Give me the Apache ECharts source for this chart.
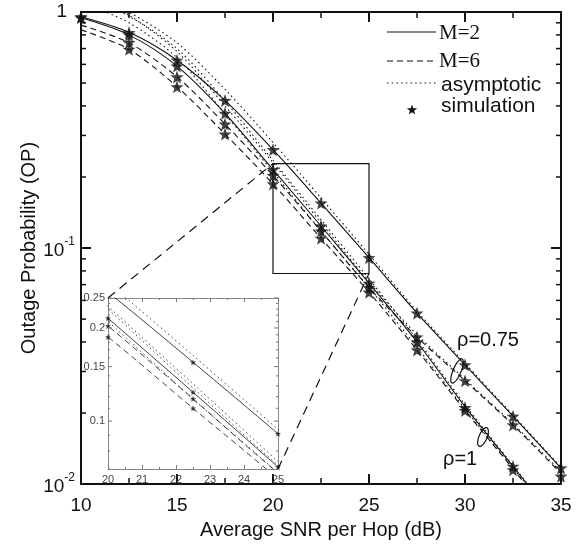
<!DOCTYPE html>
<html><head><meta charset="utf-8">
<script src="https://cdn.jsdelivr.net/npm/echarts@6/dist/echarts.min.js"></script>
<style>html,body{margin:0;padding:0;background:#fff}#c{width:581px;height:545px}</style>
</head><body><div id="c"></div>
<script>
// ---- data ----
const snr = [10, 12.5, 15, 17.5, 20, 22.5, 25, 27.5, 30, 32.5, 35];
// exact curves
const rho075M2 = [0.955, 0.82, 0.625, 0.422, 0.261, 0.155, 0.091, 0.053, 0.032, 0.0194, 0.0117];
const rho1M2   = [0.945, 0.80, 0.59, 0.372, 0.215, 0.124, 0.071, 0.040, 0.0213, 0.0119, 0.0066];
const rho075M6 = [0.88, 0.74, 0.531, 0.335, 0.203, 0.118, 0.068, 0.042, 0.0274, 0.0178, 0.0111];
const rho1M6   = [0.84, 0.695, 0.482, 0.304, 0.187, 0.110, 0.065, 0.037, 0.0205, 0.0116, 0.0064];
// asymptotic curves
const asy075M2 = [1.3, 1.0, 0.74, 0.47, 0.28, 0.163, 0.094, 0.054, 0.0325, 0.0196, 0.0118];
const asy1M2   = [1.2, 0.96, 0.70, 0.42, 0.235, 0.132, 0.074, 0.041, 0.0217, 0.012, 0.0066];
const asy075M6 = [1.25, 0.97, 0.68, 0.40, 0.23, 0.128, 0.072, 0.043, 0.0278, 0.018, 0.0113];
const asy1M6   = [1.1, 0.90, 0.64, 0.37, 0.21, 0.118, 0.068, 0.038, 0.0208, 0.0117, 0.0065];
// simulation points
const sim075M2 = [0.955, 0.818, 0.625, 0.422, 0.261, 0.155, 0.091, 0.053, 0.032, 0.0194, 0.0117];
const sim1M2   = [0.945, 0.80, 0.59, 0.372, 0.215, 0.124, 0.071, 0.040, 0.0211, 0.0119, 0.0066];
const sim075M6 = [null, 0.743, 0.531, 0.335, 0.203, 0.118, 0.068, 0.042, 0.0274, 0.0178, 0.0108];
const sim1M6   = [null, 0.695, 0.482, 0.304, 0.187, 0.110, 0.065, 0.037, 0.0205, 0.0115, 0.0064];
// ticks / labels
const mainMinorY = [0.02,0.03,0.04,0.05,0.06,0.07,0.08,0.09,0.2,0.3,0.4,0.5,0.6,0.7,0.8,0.9];
const insetYLabels = [0.1, 0.15, 0.2, 0.25];
const insetYMinor = [0.07,0.08,0.09,0.11,0.12,0.13,0.14,0.16,0.17,0.18,0.19,0.21,0.22,0.23,0.24];
const zoomBoxX = [20, 25];
const zoomBoxY = [0.078, 0.228];
const insetX = [20, 25];
const insetY = [0.07, 0.25];

const SANS = 'Liberation Sans, Arial, sans-serif';
const SERIF = 'Liberation Serif, Times New Roman, serif';
const STAR_PTS = [[0,-10],[2.35,-3.24],[9.51,-3.09],[3.8,1.24],[5.88,8.09],[0,4.3],[-5.88,8.09],[-3.8,1.24],[-9.51,-3.09],[-2.35,-3.24]];
const STAR = 'path://M' + STAR_PTS.map(p => p.join(',')).join('L') + 'Z';
const DASH = [6, 4];
const DOT = [1.5, 3.2];

const pair = arr => snr.map((x, i) => [x, arr[i]]).filter(p => p[1] != null);

const chart = echarts.init(document.getElementById('c'));

function lineSeries(arr, type, xi, yi, w) {
  return {type: 'line', data: pair(arr), xAxisIndex: xi, yAxisIndex: yi, smooth: 0.3,
    showSymbol: false, symbol: 'none', silent: true, clip: true,
    lineStyle: {color: '#111', width: w, type: type}, z: 3};
}
function starSeries(arr, xi, yi, size) {
  return {type: 'scatter', data: pair(arr), xAxisIndex: xi, yAxisIndex: yi, symbol: STAR,
    symbolSize: size, itemStyle: {color: '#111'}, silent: true, clip: true, z: 4};
}

const series = [];
[[0,0,1.1],[2,2,0.8]].forEach(([xi, yi, w]) => {
  series.push(lineSeries(rho075M2, 'solid', xi, yi, w));
  series.push(lineSeries(rho1M2, 'solid', xi, yi, w));
  series.push(lineSeries(rho075M6, DASH, xi, yi, w));
  series.push(lineSeries(rho1M6, DASH, xi, yi, w));
  series.push(lineSeries(asy075M2, DOT, xi, yi, w));
  series.push(lineSeries(asy1M2, DOT, xi, yi, w));
  series.push(lineSeries(asy075M6, DOT, xi, yi, w));
  series.push(lineSeries(asy1M6, DOT, xi, yi, w));
  const s = xi === 0 ? 13 : 6;
  series.push(starSeries(sim075M2, xi, yi, s));
  series.push(starSeries(sim1M2, xi, yi, s));
  series.push(starSeries(sim075M6, xi, yi, s));
  series.push(starSeries(sim1M6, xi, yi, s));
});

// main log minor ticks (left and right)
series.push({type: 'custom', xAxisIndex: 0, yAxisIndex: 0, data: [[10, 0.5]], silent: true, z: 5, clip: false,
  renderItem: (p, api) => {
    const ch = [];
    mainMinorY.forEach(v => {
      const l = api.coord([10, v]), r = api.coord([35, v]);
      ch.push({type: 'line', shape: {x1: l[0], y1: l[1], x2: l[0] + 5, y2: l[1]}, style: {stroke: '#111', lineWidth: 1.5}});
      ch.push({type: 'line', shape: {x1: r[0], y1: r[1], x2: r[0] - 5, y2: r[1]}, style: {stroke: '#111', lineWidth: 1.5}});
    });
    return {type: 'group', children: ch};
  }});
// inset y ticks and labels
series.push({type: 'custom', xAxisIndex: 2, yAxisIndex: 2, data: [[20, 0.1]], silent: true, z: 6, clip: false,
  renderItem: (p, api) => {
    const ch = [];
    insetYMinor.forEach(v => {
      const l = api.coord([20, v]), r = api.coord([25, v]);
      ch.push({type: 'line', shape: {x1: l[0], y1: l[1], x2: l[0] + 2, y2: l[1]}, style: {stroke: '#777', lineWidth: 1}});
      ch.push({type: 'line', shape: {x1: r[0], y1: r[1], x2: r[0] - 2, y2: r[1]}, style: {stroke: '#777', lineWidth: 1}});
    });
    insetYLabels.forEach(v => {
      const l = api.coord([20, v]), r = api.coord([25, v]);
      ch.push({type: 'line', shape: {x1: l[0], y1: l[1], x2: l[0] + 4, y2: l[1]}, style: {stroke: '#777', lineWidth: 1}});
      ch.push({type: 'line', shape: {x1: r[0], y1: r[1], x2: r[0] - 4, y2: r[1]}, style: {stroke: '#777', lineWidth: 1}});
      ch.push({type: 'text', x: l[0] - 3, y: l[1], style: {text: String(v), align: 'right', verticalAlign: 'middle',
        font: '11px ' + SANS, fill: '#444'}});
    });
    return {type: 'group', children: ch};
  }});

const supFmt = v => {
  const e = Math.round(Math.log10(v));
  return e === 0 ? '{one|1}' : '{b|10}{s|' + e + '}';
};

const option = {
  animation: false,
  backgroundColor: '#fff',
  grid: [
    {left: 81, top: 12, width: 480, height: 480, containLabel: false},
    {left: 108, top: 298, width: 170, height: 171, show: true, backgroundColor: '#fff', borderWidth: 0, z: 0}
  ],
  xAxis: [
    {type: 'value', gridIndex: 0, min: 10, max: 35, interval: 5, position: 'bottom',
      name: 'Average SNR per Hop (dB)', nameLocation: 'middle', nameGap: 34,
      nameTextStyle: {fontFamily: SANS, fontSize: 20, color: '#111'},
      axisLine: {lineStyle: {color: '#111', width: 2}},
      axisTick: {inside: true, length: 10, lineStyle: {color: '#111', width: 2}},
      minorTick: {show: true, splitNumber: 2, length: 6, lineStyle: {color: '#111', width: 1.5}},
      axisLabel: {fontFamily: SANS, fontSize: 19, color: '#111', margin: 12},
      splitLine: {show: false}},
    {type: 'value', gridIndex: 0, min: 10, max: 35, interval: 5, position: 'top',
      axisLine: {lineStyle: {color: '#111', width: 2}},
      axisTick: {inside: true, length: 10, lineStyle: {color: '#111', width: 2}},
      minorTick: {show: true, splitNumber: 2, length: 6, lineStyle: {color: '#111', width: 1.5}},
      axisLabel: {show: false}, splitLine: {show: false}},
    {type: 'value', gridIndex: 1, min: 20, max: 25, interval: 1, position: 'bottom',
      axisLine: {lineStyle: {color: '#888', width: 1}},
      axisTick: {inside: true, length: 4, lineStyle: {color: '#777'}},
      minorTick: {show: true, splitNumber: 2, length: 2, lineStyle: {color: '#777'}},
      axisLabel: {fontFamily: SANS, fontSize: 11, color: '#444', margin: 5},
      splitLine: {show: false}},
    {type: 'value', gridIndex: 1, min: 20, max: 25, interval: 1, position: 'top',
      axisLine: {lineStyle: {color: '#888', width: 1}},
      axisTick: {inside: true, length: 4, lineStyle: {color: '#777'}},
      minorTick: {show: true, splitNumber: 2, length: 2, lineStyle: {color: '#777'}},
      axisLabel: {show: false}, splitLine: {show: false}}
  ],
  yAxis: [
    {type: 'log', logBase: 10, gridIndex: 0, min: 0.01, max: 1, position: 'left',
      name: 'Outage Probability (OP)', nameLocation: 'middle', nameGap: 42, nameMoveOverlap: false,
      nameTextStyle: {fontFamily: SANS, fontSize: 20, color: '#111'},
      axisLine: {lineStyle: {color: '#111', width: 2}},
      axisTick: {inside: true, length: 10, lineStyle: {color: '#111', width: 2}},
      axisLabel: {formatter: supFmt, margin: 6, color: '#111',
        rich: {one: {fontFamily: SANS, fontSize: 19, color: '#111', lineHeight: 24, padding: [0, 8, 0, 0]},
               b: {fontFamily: SANS, fontSize: 19, color: '#111', lineHeight: 24, verticalAlign: 'bottom'},
               s: {fontFamily: SANS, fontSize: 12, color: '#111', lineHeight: 12, verticalAlign: 'top'}}},
      splitLine: {show: false}},
    {type: 'log', logBase: 10, gridIndex: 0, min: 0.01, max: 1, position: 'right',
      axisLine: {lineStyle: {color: '#111', width: 2}},
      axisTick: {inside: true, length: 10, lineStyle: {color: '#111', width: 2}},
      axisLabel: {show: false}, splitLine: {show: false}},
    {type: 'log', logBase: 10, gridIndex: 1, min: insetY[0], max: insetY[1], position: 'left',
      axisLine: {lineStyle: {color: '#888', width: 1}}, axisTick: {show: false},
      axisLabel: {show: false}, splitLine: {show: false}},
    {type: 'log', logBase: 10, gridIndex: 1, min: insetY[0], max: insetY[1], position: 'right',
      axisLine: {lineStyle: {color: '#888', width: 1}}, axisTick: {show: false},
      axisLabel: {show: false}, splitLine: {show: false}}
  ],
  series: series
};
chart.setOption(option);

// zoom box, connectors, legend, annotations
const P = (v) => chart.convertToPixel({xAxisIndex: 0, yAxisIndex: 0}, v);
const Q = (v) => chart.convertToPixel({xAxisIndex: 2, yAxisIndex: 2}, v);
const bTL = P([zoomBoxX[0], zoomBoxY[1]]), bBR = P([zoomBoxX[1], zoomBoxY[0]]);
const iTL = Q([insetX[0], insetY[1]]), iBR = Q([insetX[1], insetY[0]]);
const txt = (x, y, s, font, align) => ({type: 'text', x: x, y: y, z: 20,
  style: {text: s, font: font, fill: '#111', align: align || 'left', verticalAlign: 'middle'}});
const ellipsePts = (cx, cy, rx, ry, rot) => {
  const pts = [];
  for (let i = 0; i < 48; i++) {
    const t = i / 48 * Math.PI * 2;
    const x = rx * Math.cos(t), y = ry * Math.sin(t);
    pts.push([cx + x * Math.cos(rot) - y * Math.sin(rot), cy + x * Math.sin(rot) + y * Math.cos(rot)]);
  }
  return pts;
};
const legendStar = STAR_PTS.map(p => [412 + p[0] * 0.55, 110 + p[1] * 0.55]);
chart.setOption({graphic: [
  {type: 'rect', shape: {x: bTL[0], y: bTL[1], width: bBR[0] - bTL[0], height: bBR[1] - bTL[1]},
    style: {fill: 'none', stroke: '#111', lineWidth: 1.2}, z: 20},
  {type: 'line', shape: {x1: iTL[0], y1: iTL[1], x2: bTL[0], y2: bTL[1]}, style: {stroke: '#111', lineWidth: 1.2, lineDash: [9, 6]}, z: 20},
  {type: 'line', shape: {x1: iBR[0], y1: iBR[1], x2: bBR[0], y2: bBR[1]}, style: {stroke: '#111', lineWidth: 1.2, lineDash: [9, 6]}, z: 20},
  // legend
  {type: 'line', shape: {x1: 387, y1: 32, x2: 436, y2: 32}, style: {stroke: '#111', lineWidth: 1.2}, z: 20},
  {type: 'line', shape: {x1: 387, y1: 61, x2: 436, y2: 61}, style: {stroke: '#111', lineWidth: 1.2, lineDash: DASH}, z: 20},
  {type: 'line', shape: {x1: 387, y1: 83, x2: 436, y2: 83}, style: {stroke: '#111', lineWidth: 1.2, lineDash: DOT}, z: 20},
  {type: 'polygon', shape: {points: legendStar}, style: {fill: '#111'}, z: 20},
  txt(439, 33, 'M=2', '21px ' + SERIF),
  txt(439, 61, 'M=6', '21px ' + SERIF),
  txt(441, 85, 'asymptotic', '21px ' + SANS),
  txt(441, 106, 'simulation', '21px ' + SANS),
  // annotations
  txt(457, 340, 'ρ=0.75', '20px ' + SANS),
  txt(443, 459, 'ρ=1', '20px ' + SANS),
  {type: 'polygon', shape: {points: ellipsePts(457, 371, 4, 13, 0.4)}, style: {fill: 'none', stroke: '#111', lineWidth: 1.2}, z: 20},
  {type: 'polygon', shape: {points: ellipsePts(483, 437, 4, 10, 0.4)}, style: {fill: 'none', stroke: '#111', lineWidth: 1.2}, z: 20}
]});
</script></body></html>
